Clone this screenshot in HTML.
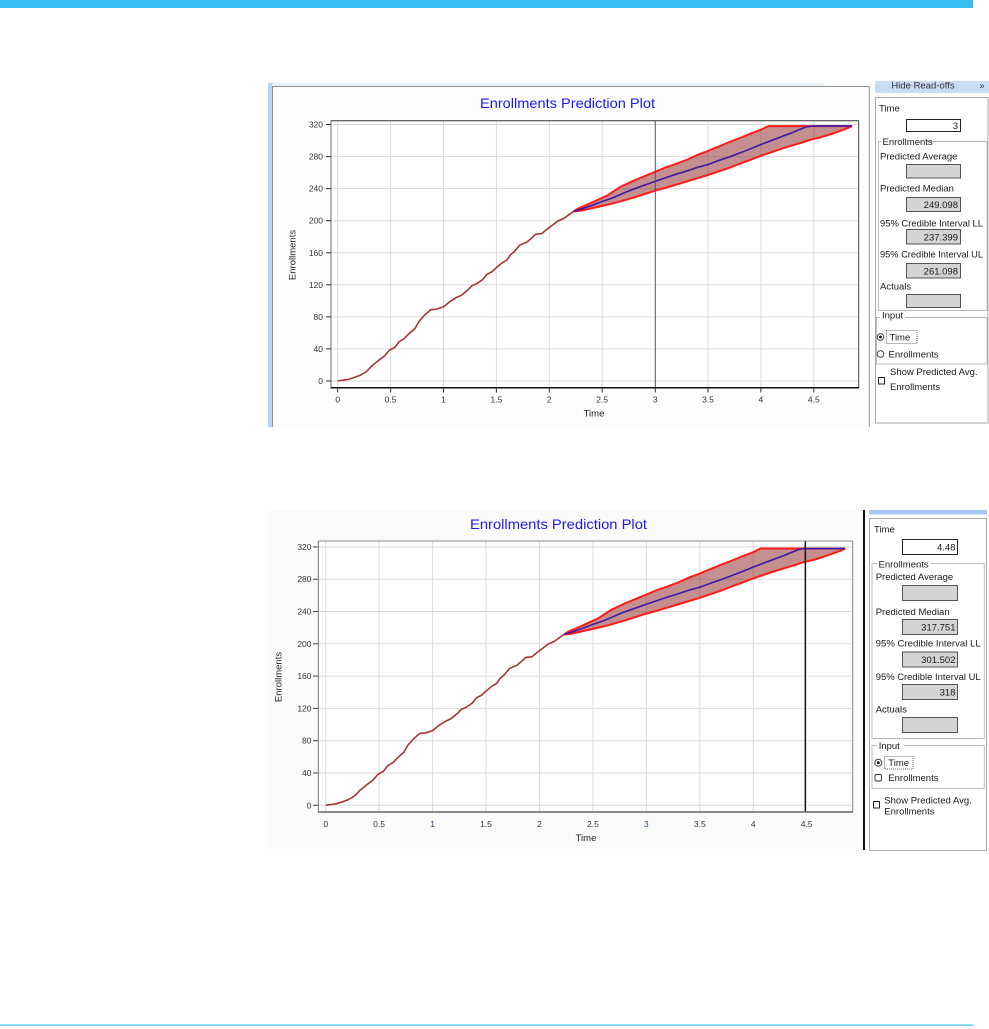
<!DOCTYPE html>
<html><head><meta charset="utf-8"><style>
html,body{margin:0;padding:0;background:#fff;width:989px;height:1029px;overflow:hidden}
svg{display:block;font-family:"Liberation Sans",sans-serif}
</style></head><body>
<svg width="989" height="1029" viewBox="0 0 989 1029" xmlns="http://www.w3.org/2000/svg">
<defs>
<clipPath id="hb"><rect x="875" y="82" width="114" height="12"/></clipPath>
</defs>
<!-- header / footer -->
<rect x="0" y="0" width="973" height="8" fill="#36bdf2"/>
<rect x="0" y="1024.5" width="973" height="1.2" fill="#36bdf2"/>

<!-- ================= TOP CHART ================= -->
<rect x="268" y="83" width="4" height="344" fill="#b9d3f3"/>
<rect x="272" y="83" width="552" height="3" fill="#e6eef7"/>
<rect x="272" y="86" width="597" height="341" fill="#fdfdfd"/>
<path d="M272.5,427 V86.5 H869.3 V427" fill="none" stroke="#8e8e8e"/>
<text x="567.5" y="108" font-size="14" fill="#1a1aee" text-anchor="middle" textLength="175" lengthAdjust="spacingAndGlyphs">Enrollments Prediction Plot</text>
<rect x="331" y="120.7" width="527.7" height="267" fill="#fff"/>
<g stroke="#dadada" stroke-width="1">
<line x1="337.7" y1="120.7" x2="337.7" y2="387.7"/><line x1="390.6" y1="120.7" x2="390.6" y2="387.7"/>
<line x1="443.5" y1="120.7" x2="443.5" y2="387.7"/><line x1="496.4" y1="120.7" x2="496.4" y2="387.7"/>
<line x1="549.3" y1="120.7" x2="549.3" y2="387.7"/><line x1="602.2" y1="120.7" x2="602.2" y2="387.7"/>
<line x1="708" y1="120.7" x2="708" y2="387.7"/><line x1="760.9" y1="120.7" x2="760.9" y2="387.7"/>
<line x1="813.8" y1="120.7" x2="813.8" y2="387.7"/>
<line x1="331" y1="381" x2="858.7" y2="381"/><line x1="331" y1="348.9" x2="858.7" y2="348.9"/>
<line x1="331" y1="316.9" x2="858.7" y2="316.9"/><line x1="331" y1="284.8" x2="858.7" y2="284.8"/>
<line x1="331" y1="252.8" x2="858.7" y2="252.8"/><line x1="331" y1="220.7" x2="858.7" y2="220.7"/>
<line x1="331" y1="188.6" x2="858.7" y2="188.6"/><line x1="331" y1="156.6" x2="858.7" y2="156.6"/>
<line x1="331" y1="124.5" x2="858.7" y2="124.5"/>
</g>
<g transform="matrix(105.8 0 0 -0.8016 337.7 381)">
<path vector-effect="non-scaling-stroke" d="M2.23,211.5 L2.27,215 2.35,219.5 2.45,225.5 2.55,231.5 2.67,242 2.8,250 3,261 3.1,266.5 3.2,271 3.3,276 3.4,282 3.5,287 3.6,292.5 3.7,298 3.8,303 3.9,308.5 4,313.5 4.07,318 4.86,318 4.82,315.5 4.75,312 4.65,307.5 4.55,303.5 4.48,301.5 4.4,298 4.3,294 4.2,290 4.1,285.5 4,281 3.9,276 3.8,271 3.7,266 3.6,261.5 3.5,257 3.4,253 3.3,249 3.2,245 3.1,241 3,237.4 2.8,229 2.67,224 2.6,221.5 2.5,218.5 2.4,215.5 2.3,212.5 Z" fill="#8b2020" fill-opacity="0.5" stroke="#ff1a1a" stroke-width="2"/>
<path vector-effect="non-scaling-stroke" d="M2.23,211.5 L2.3,214.5 2.4,219 2.5,224 2.6,228.5 2.67,232.5 2.75,237 2.85,242 3,249 3.1,253.5 3.2,258 3.3,262 3.4,266.5 3.5,270 3.6,275 3.7,279.5 3.8,284.5 3.9,289.5 4,295 4.1,300 4.2,305 4.3,310 4.38,314.5 4.43,317 4.48,318 4.86,318" fill="none" stroke="#3a1aa8" stroke-width="1.6"/>
<path vector-effect="non-scaling-stroke" d="M0,0 L0.05,1 0.1,2 0.15,4 0.21,7 0.27,11.5 0.32,18.5 0.38,25 0.44,31 0.49,38.5 0.54,42 0.58,49 0.63,53 0.67,58.5 0.73,65.5 0.77,74.5 0.82,82 0.88,89 0.93,89.5 1,92.5 1.06,99 1.12,104 1.17,107 1.23,113.5 1.27,119 1.31,121 1.37,126.5 1.41,133 1.46,136.5 1.5,141.5 1.55,147 1.6,151 1.63,157 1.67,161.5 1.72,169.5 1.79,173.5 1.83,178 1.87,183 1.93,184 1.97,188.5 2.03,194.5 2.08,199.5 2.14,203 2.18,207 2.23,211.5" fill="none" stroke="#a83434" stroke-width="1.6"/>
</g>
<line x1="655.3" y1="120.7" x2="655.3" y2="387.7" stroke="#555" stroke-width="1"/>
<line x1="331" y1="120.7" x2="858.7" y2="120.7" stroke="#333" stroke-width="1"/>
<line x1="858.7" y1="120.7" x2="858.7" y2="387.7" stroke="#444" stroke-width="1"/>
<line x1="331" y1="120.7" x2="331" y2="388.5" stroke="#666" stroke-width="1"/>
<line x1="330.5" y1="387.7" x2="859" y2="387.7" stroke="#111" stroke-width="1.5"/>
<g stroke="#333" stroke-width="1">
<line x1="326" y1="381" x2="331" y2="381"/><line x1="326" y1="348.9" x2="331" y2="348.9"/>
<line x1="326" y1="316.9" x2="331" y2="316.9"/><line x1="326" y1="284.8" x2="331" y2="284.8"/>
<line x1="326" y1="252.8" x2="331" y2="252.8"/><line x1="326" y1="220.7" x2="331" y2="220.7"/>
<line x1="326" y1="188.6" x2="331" y2="188.6"/><line x1="326" y1="156.6" x2="331" y2="156.6"/>
<line x1="326" y1="124.5" x2="331" y2="124.5"/>
<line x1="337.7" y1="387.7" x2="337.7" y2="392.5"/><line x1="390.6" y1="387.7" x2="390.6" y2="392.5"/>
<line x1="443.5" y1="387.7" x2="443.5" y2="392.5"/><line x1="496.4" y1="387.7" x2="496.4" y2="392.5"/>
<line x1="549.3" y1="387.7" x2="549.3" y2="392.5"/><line x1="602.2" y1="387.7" x2="602.2" y2="392.5"/>
<line x1="655.3" y1="387.7" x2="655.3" y2="392.5"/><line x1="708" y1="387.7" x2="708" y2="392.5"/>
<line x1="760.9" y1="387.7" x2="760.9" y2="392.5"/><line x1="813.8" y1="387.7" x2="813.8" y2="392.5"/>
</g>
<g font-size="8.5" fill="#333" text-anchor="end">
<text x="323" y="384">0</text><text x="323" y="351.9">40</text><text x="323" y="319.9">80</text>
<text x="323" y="287.8">120</text><text x="323" y="255.8">160</text><text x="323" y="223.7">200</text>
<text x="323" y="191.6">240</text><text x="323" y="159.6">280</text><text x="323" y="127.5">320</text>
</g>
<g font-size="8.5" fill="#333" text-anchor="middle">
<text x="337.7" y="402.5">0</text><text x="390.6" y="402.5">0.5</text><text x="443.5" y="402.5">1</text>
<text x="496.4" y="402.5">1.5</text><text x="549.3" y="402.5">2</text><text x="602.2" y="402.5">2.5</text>
<text x="655.3" y="402.5">3</text><text x="708" y="402.5">3.5</text><text x="760.9" y="402.5">4</text>
<text x="813.8" y="402.5">4.5</text>
</g>
<text x="594" y="416.5" font-size="9.5" fill="#222" text-anchor="middle">Time</text>
<text transform="translate(295.5,255) rotate(-90)" font-size="9.5" fill="#222" text-anchor="middle">Enrollments</text>

<!-- top side panel -->
<rect x="875" y="81" width="114" height="12" fill="#c8dcf4"/>
<g clip-path="url(#hb)"><text x="923" y="88.5" font-size="9.5" fill="#333" text-anchor="middle">Hide Read-offs</text><text x="982" y="88.5" font-size="9" fill="#333" text-anchor="middle">»</text></g>
<rect x="875.5" y="97.5" width="112.5" height="325.5" fill="#fff" stroke="#aaa"/>
<g font-size="9.5" fill="#1a1a1a">
<text x="879" y="111.3">Time</text>
<rect x="906.5" y="119.5" width="54" height="12" fill="#fff" stroke="#222"/>
<text x="958" y="129" text-anchor="end">3</text>
<rect x="878.5" y="141.5" width="108.5" height="169" fill="none" stroke="#bbb"/>
<rect x="881" y="138" width="46" height="8" fill="#fff"/>
<text x="882.5" y="145">Enrollments</text>
<text x="880" y="159.3">Predicted Average</text>
<rect x="906.5" y="164.5" width="54" height="13.5" fill="#d4d4d4" stroke="#555"/>
<text x="880" y="191.3">Predicted Median</text>
<rect x="906.5" y="197.5" width="54" height="14" fill="#d4d4d4" stroke="#555"/>
<text x="958" y="208" text-anchor="end">249.098</text>
<text x="880" y="226.3" textLength="103" lengthAdjust="spacingAndGlyphs">95% Credible Interval LL</text>
<rect x="906.5" y="229.5" width="54" height="14.5" fill="#d4d4d4" stroke="#555"/>
<text x="958" y="240.5" text-anchor="end">237.399</text>
<text x="880" y="257.3" textLength="103" lengthAdjust="spacingAndGlyphs">95% Credible Interval UL</text>
<rect x="906.5" y="263.5" width="54" height="14.5" fill="#d4d4d4" stroke="#555"/>
<text x="958" y="274.5" text-anchor="end">261.098</text>
<text x="880" y="289.3">Actuals</text>
<rect x="906.5" y="294.5" width="54" height="13" fill="#d4d4d4" stroke="#555"/>
<rect x="876.5" y="317.5" width="110.5" height="46.5" fill="none" stroke="#bbb"/>
<rect x="880" y="312" width="25" height="8" fill="#fff"/>
<text x="882" y="318.5">Input</text>
<circle cx="880.5" cy="337" r="3.3" fill="#fff" stroke="#333" stroke-width="0.9"/>
<circle cx="880.5" cy="337" r="1.5" fill="#222"/>
<rect x="886.5" y="330.5" width="30.5" height="13" fill="none" stroke="#444" stroke-width="0.8" stroke-dasharray="1,1"/>
<text x="889.5" y="340.3">Time</text>
<circle cx="880.5" cy="354" r="3.3" fill="#fff" stroke="#333" stroke-width="0.9"/>
<text x="888.5" y="357.3">Enrollments</text>
<rect x="878.5" y="377.5" width="6" height="6.5" fill="#fff" stroke="#222"/>
<text x="890" y="375">Show Predicted Avg.</text>
<text x="890" y="390">Enrollments</text>
</g>

<!-- ================= BOTTOM CHART ================= -->
<rect x="268" y="510" width="595" height="339" fill="#fbfbfb"/>
<text x="558.5" y="529" font-size="14" fill="#1a1aee" text-anchor="middle" textLength="177" lengthAdjust="spacingAndGlyphs">Enrollments Prediction Plot</text>
<rect x="318.3" y="541" width="534.4" height="271" fill="#fff"/>
<g stroke="#dadada" stroke-width="1">
<line x1="325.7" y1="541" x2="325.7" y2="812"/><line x1="379.1" y1="541" x2="379.1" y2="812"/>
<line x1="432.6" y1="541" x2="432.6" y2="812"/><line x1="486" y1="541" x2="486" y2="812"/>
<line x1="539.5" y1="541" x2="539.5" y2="812"/><line x1="592.9" y1="541" x2="592.9" y2="812"/>
<line x1="646.3" y1="541" x2="646.3" y2="812"/><line x1="699.8" y1="541" x2="699.8" y2="812"/>
<line x1="753.2" y1="541" x2="753.2" y2="812"/><line x1="806.7" y1="541" x2="806.7" y2="812"/>
<line x1="318.3" y1="805.3" x2="852.7" y2="805.3"/><line x1="318.3" y1="773" x2="852.7" y2="773"/>
<line x1="318.3" y1="740.7" x2="852.7" y2="740.7"/><line x1="318.3" y1="708.4" x2="852.7" y2="708.4"/>
<line x1="318.3" y1="676.1" x2="852.7" y2="676.1"/><line x1="318.3" y1="643.8" x2="852.7" y2="643.8"/>
<line x1="318.3" y1="611.5" x2="852.7" y2="611.5"/><line x1="318.3" y1="579.2" x2="852.7" y2="579.2"/>
<line x1="318.3" y1="546.9" x2="852.7" y2="546.9"/>
</g>
<g transform="matrix(106.88 0 0 -0.8075 325.7 805.3)">
<path vector-effect="non-scaling-stroke" d="M2.23,211.5 L2.27,215 2.35,219.5 2.45,225.5 2.55,231.5 2.67,242 2.8,250 3,261 3.1,266.5 3.2,271 3.3,276 3.4,282 3.5,287 3.6,292.5 3.7,298 3.8,303 3.9,308.5 4,313.5 4.07,318 4.86,318 4.82,315.5 4.75,312 4.65,307.5 4.55,303.5 4.48,301.5 4.4,298 4.3,294 4.2,290 4.1,285.5 4,281 3.9,276 3.8,271 3.7,266 3.6,261.5 3.5,257 3.4,253 3.3,249 3.2,245 3.1,241 3,237.4 2.8,229 2.67,224 2.6,221.5 2.5,218.5 2.4,215.5 2.3,212.5 Z" fill="#8b2020" fill-opacity="0.5" stroke="#ff1a1a" stroke-width="2"/>
<path vector-effect="non-scaling-stroke" d="M2.23,211.5 L2.3,214.5 2.4,219 2.5,224 2.6,228.5 2.67,232.5 2.75,237 2.85,242 3,249 3.1,253.5 3.2,258 3.3,262 3.4,266.5 3.5,270 3.6,275 3.7,279.5 3.8,284.5 3.9,289.5 4,295 4.1,300 4.2,305 4.3,310 4.38,314.5 4.43,317 4.48,318 4.86,318" fill="none" stroke="#3a1aa8" stroke-width="1.6"/>
<path vector-effect="non-scaling-stroke" d="M0,0 L0.05,1 0.1,2 0.15,4 0.21,7 0.27,11.5 0.32,18.5 0.38,25 0.44,31 0.49,38.5 0.54,42 0.58,49 0.63,53 0.67,58.5 0.73,65.5 0.77,74.5 0.82,82 0.88,89 0.93,89.5 1,92.5 1.06,99 1.12,104 1.17,107 1.23,113.5 1.27,119 1.31,121 1.37,126.5 1.41,133 1.46,136.5 1.5,141.5 1.55,147 1.6,151 1.63,157 1.67,161.5 1.72,169.5 1.79,173.5 1.83,178 1.87,183 1.93,184 1.97,188.5 2.03,194.5 2.08,199.5 2.14,203 2.18,207 2.23,211.5" fill="none" stroke="#a83434" stroke-width="1.6"/>
</g>
<line x1="805.3" y1="541" x2="805.3" y2="812" stroke="#111" stroke-width="1.4"/>
<line x1="318.3" y1="541" x2="852.7" y2="541" stroke="#888" stroke-width="1"/>
<line x1="852.7" y1="541" x2="852.7" y2="812" stroke="#888" stroke-width="1"/>
<line x1="318.3" y1="541" x2="318.3" y2="812.5" stroke="#777" stroke-width="1"/>
<line x1="318" y1="812" x2="853" y2="812" stroke="#666" stroke-width="1.4"/>
<g stroke="#444" stroke-width="1">
<line x1="313" y1="805.3" x2="318.3" y2="805.3"/><line x1="313" y1="773" x2="318.3" y2="773"/>
<line x1="313" y1="740.7" x2="318.3" y2="740.7"/><line x1="313" y1="708.4" x2="318.3" y2="708.4"/>
<line x1="313" y1="676.1" x2="318.3" y2="676.1"/><line x1="313" y1="643.8" x2="318.3" y2="643.8"/>
<line x1="313" y1="611.5" x2="318.3" y2="611.5"/><line x1="313" y1="579.2" x2="318.3" y2="579.2"/>
<line x1="313" y1="546.9" x2="318.3" y2="546.9"/>
</g>
<g font-size="8.5" fill="#333" text-anchor="end">
<text x="311.5" y="808.3">0</text><text x="311.5" y="776">40</text><text x="311.5" y="743.7">80</text>
<text x="311.5" y="711.4">120</text><text x="311.5" y="679.1">160</text><text x="311.5" y="646.8">200</text>
<text x="311.5" y="614.5">240</text><text x="311.5" y="582.2">280</text><text x="311.5" y="549.9">320</text>
</g>
<g font-size="8.5" fill="#333" text-anchor="middle">
<text x="325.7" y="827">0</text><text x="379.1" y="827">0.5</text><text x="432.6" y="827" fill="#3a2a8a">1</text>
<text x="486" y="827">1.5</text><text x="539.5" y="827">2</text><text x="592.9" y="827">2.5</text>
<text x="646.3" y="827" fill="#2a5a8a">3</text><text x="699.8" y="827">3.5</text><text x="753.2" y="827">4</text>
<text x="806.7" y="827">4.5</text>
</g>
<text x="586" y="841" font-size="9.5" fill="#222" text-anchor="middle">Time</text>
<text transform="translate(281.5,677) rotate(-90)" font-size="9.5" fill="#222" text-anchor="middle">Enrollments</text>

<!-- bottom side panel -->
<rect x="863" y="510" width="2" height="340" fill="#111"/>
<rect x="869" y="510" width="118" height="4.5" fill="#a9c8f0"/>
<rect x="869.5" y="518.5" width="117" height="332" fill="#fff" stroke="#aaa"/>
<g font-size="9.5" fill="#1a1a1a">
<text x="874" y="532.5">Time</text>
<rect x="902.5" y="539.5" width="55" height="15" fill="#fff" stroke="#222"/>
<text x="955.5" y="550.5" text-anchor="end">4.48</text>
<rect x="872" y="563.5" width="112.3" height="175" fill="none" stroke="#bbb"/>
<rect x="877" y="559" width="54" height="9" fill="#fff"/>
<text x="878.5" y="567.3">Enrollments</text>
<text x="875.7" y="580">Predicted Average</text>
<rect x="902.5" y="585.5" width="55" height="15" fill="#d4d4d4" stroke="#555"/>
<text x="875.7" y="615">Predicted Median</text>
<rect x="902.5" y="619.5" width="55" height="15" fill="#d4d4d4" stroke="#555"/>
<text x="955.5" y="630.5" text-anchor="end">317.751</text>
<text x="875.7" y="646.6" textLength="105" lengthAdjust="spacingAndGlyphs">95% Credible Interval LL</text>
<rect x="902.5" y="652" width="55" height="15" fill="#d4d4d4" stroke="#555"/>
<text x="955.5" y="663" text-anchor="end">301.502</text>
<text x="875.7" y="680" textLength="105" lengthAdjust="spacingAndGlyphs">95% Credible Interval UL</text>
<rect x="902.5" y="684.5" width="55" height="15" fill="#d4d4d4" stroke="#555"/>
<text x="955.5" y="695.5" text-anchor="end">318</text>
<text x="875.7" y="712.6">Actuals</text>
<rect x="902.5" y="717.5" width="55" height="15" fill="#d4d4d4" stroke="#555"/>
<rect x="872" y="745.5" width="112.3" height="43" fill="none" stroke="#bbb"/>
<rect x="877" y="741" width="27" height="9" fill="#fff"/>
<text x="878.7" y="749">Input</text>
<circle cx="878.3" cy="762.7" r="3.5" fill="#fff" stroke="#333" stroke-width="0.9"/>
<circle cx="878.3" cy="762.7" r="1.5" fill="#222"/>
<rect x="884.5" y="756.5" width="28.5" height="12.5" fill="none" stroke="#444" stroke-width="0.8" stroke-dasharray="1,1"/>
<text x="888.3" y="766">Time</text>
<rect x="875" y="774.5" width="6.5" height="6.5" rx="1.5" fill="#fff" stroke="#333" stroke-width="0.9"/>
<text x="888.3" y="781">Enrollments</text>
<rect x="873.5" y="801.5" width="6" height="6.5" fill="#fff" stroke="#222"/>
<text x="884.3" y="803.3">Show Predicted Avg.</text>
<text x="884.3" y="814.3">Enrollments</text>
</g>
</svg>
</body></html>
